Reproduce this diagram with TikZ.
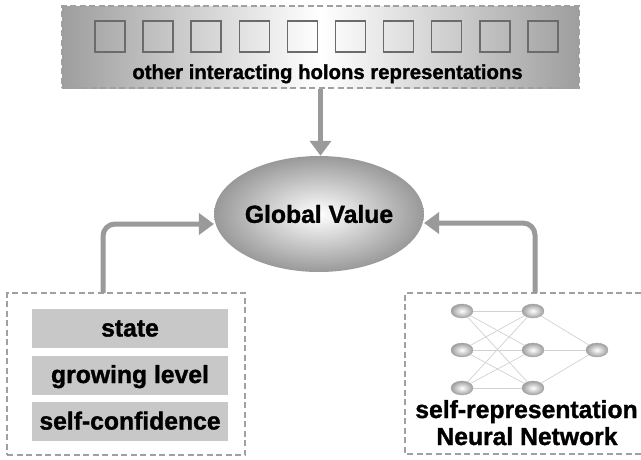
\documentclass[tikz,border=0pt]{standalone}
\usepackage{fontspec}
\setmainfont{Liberation Sans}[BoldFeatures={FakeBold=1.3}]
\usetikzlibrary{arrows.meta,shapes.geometric}
\definecolor{flowgray}{HTML}{9A9A9A}
\definecolor{frame}{HTML}{A0A0A0}
\definecolor{cellgray}{HTML}{C8C8C8}
\begin{document}
\begin{tikzpicture}[x=1pt,y=-1pt,
  bigfont/.style={font=\fontsize{24.7}{28}\selectfont\bfseries},
  barfont/.style={font=\fontsize{20.3}{24}\selectfont\bfseries},
  flow/.style={draw=flowgray, line width=5pt, rounded corners=12pt,
    -{Triangle[length=15pt,width=21pt]}},
  outline/.style={draw=frame, line width=1.2pt, dash pattern=on 6pt off 3.5pt},
  holon/.style={draw=black!58, line width=1.5pt, minimum width=30pt,
    minimum height=31pt, inner sep=0pt},
  attr/.style={fill=cellgray, minimum width=196pt, minimum height=39pt,
    inner sep=0pt, text height=20pt, text depth=4pt, bigfont},
  neuron/.style={ellipse, minimum width=22pt, minimum height=14pt, inner sep=0pt,
    draw=black!35, line width=0.4pt, inner color=white, outer color=black!38},
  synapse/.style={draw=black!18, line width=0.7pt}]
\useasboundingbox (0,0) rectangle (641,459);

% band of other holons
\node[outline, left color=black!38, right color=black!38, middle color=white,
  minimum width=517pt, minimum height=82pt, inner sep=0pt] (bar) at (320.5,47) {};
\foreach \k in {0,...,9}
  \node[holon] (h\k) at ({110+48.1*\k},36.5) {};
\node[barfont, anchor=base] (bartext) at (327.5,79) {other interacting holons representations};

% global value
\node[ellipse, minimum width=193pt, minimum height=116pt, inner sep=0pt,
  inner color=white, outer color=black!40, bigfont] (gv) at (319,214) {Global Value};

% holon attributes
\node[outline, minimum width=238pt, minimum height=162pt, inner sep=0pt] (lbox) at (126,374) {};
\node[attr] (state) at (130,328.5) {state};
\node[attr] (grow) at (130,375) {growing level};
\node[attr] (conf) at (130,421.5) {self-confidence};

% self-representation network
\draw[outline] (641,293) -- (405,293) -- (405,454) -- (641,454);
\node[neuron] (i1) at (462,311) {};
\node[neuron] (i2) at (462,350) {};
\node[neuron] (i3) at (462,388) {};
\node[neuron] (m1) at (533,311) {};
\node[neuron] (m2) at (533,350) {};
\node[neuron] (m3) at (533,388) {};
\node[neuron] (out) at (597,350) {};
\foreach \a in {1,2,3}{
  \foreach \b in {1,2,3}
    \draw[synapse] (i\a) -- (m\b);
  \draw[synapse] (m\a) -- (out);
}
\node[bigfont, anchor=base] (selfrep) at (526.5,418) {self-representation};
\node[bigfont, anchor=base] (nnet) at (527,445) {Neural Network};

% connectors
\coordinate (ltop) at (103,293);
\coordinate (rtop) at (535,293);
\draw[flow] (bar.south) -- (bar.south |- gv.north);
\draw[flow] (ltop) |- ([yshift=-10pt]gv.west);
\draw[flow] (rtop) |- ([yshift=-9pt]gv.east);
\end{tikzpicture}
\end{document}
